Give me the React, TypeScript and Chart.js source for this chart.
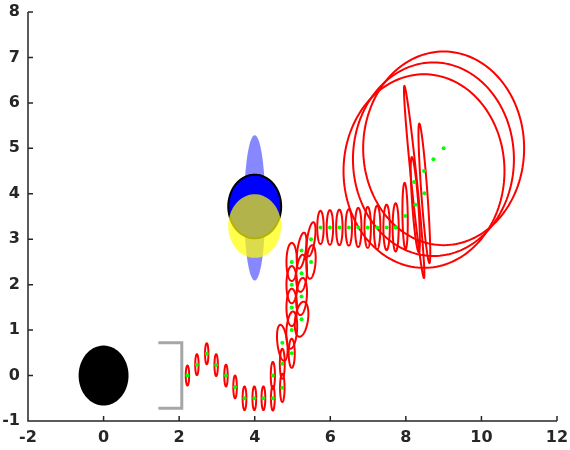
import React, { useEffect, useRef } from "react";
import { Chart, registerables } from "chart.js";
Chart.register(...registerables);

const xTicks = [-2, 0, 2, 4, 6, 8, 10, 12];
const yTicks = [-1, 0, 1, 2, 3, 4, 5, 6, 7, 8];

// Uncertainty ellipses along the trajectory: centre, semi-axes (data units), tilt (deg)
const ellX = [2.22, 2.47, 2.73, 2.98, 3.24, 3.48, 3.73, 3.99, 4.23, 4.48, 4.48, 4.73, 4.73, 4.73, 4.98, 4.98, 5.24, 4.98, 5.24, 4.98, 5.24, 4.98, 5.49, 5.24, 5.49, 5.74, 5.99, 6.24, 6.49, 6.74, 6.99, 7.24, 7.49, 7.73, 7.98, 8.25, 8.49, 8.22, 8.48, 8.73, 9.0];
const ellY = [0.0, 0.24, 0.48, 0.23, 0.0, -0.25, -0.5, -0.5, -0.5, -0.5, 0.0, -0.27, 0.26, 0.72, 0.49, 1.0, 1.24, 1.5, 1.74, 2.0, 2.25, 2.5, 2.5, 2.75, 3.0, 3.26, 3.26, 3.26, 3.26, 3.26, 3.26, 3.26, 3.26, 3.26, 3.51, 3.76, 4.01, 4.26, 4.5, 4.76, 5.0];
const ellRx = [0.045, 0.045, 0.045, 0.045, 0.045, 0.047, 0.05, 0.05, 0.05, 0.05, 0.055, 0.06, 0.065, 0.13, 0.08, 0.14, 0.17, 0.14, 0.14, 0.14, 0.14, 0.14, 0.12, 0.11, 0.1, 0.085, 0.085, 0.085, 0.085, 0.085, 0.085, 0.085, 0.085, 0.08, 0.07, 0.08, 0.08, 0.075, 2.13, 2.13, 2.13];
const ellRy = [0.22, 0.23, 0.23, 0.24, 0.24, 0.25, 0.26, 0.26, 0.26, 0.27, 0.3, 0.31, 0.33, 0.4, 0.32, 0.41, 0.39, 0.41, 0.41, 0.41, 0.41, 0.42, 0.37, 0.4, 0.38, 0.365, 0.38, 0.39, 0.4, 0.43, 0.45, 0.48, 0.5, 0.53, 0.73, 1.05, 1.54, 2.13, 2.13, 2.13, 2.13];
const ellTilt = [0, 0, 0, 0, 0, 0, 0, 0, 0, 0, 0, 0, 0, 8, 0, -5, -10, 0, -5, 0, -5, 0, -5, -10, -10, 0, 0, 0, 0, 0, 0, 0, 0, 0, 1, 5, 5, 7, 0, 0, 0];

// Filled landmarks / robot shapes: centre and semi-axes (data units)
const blobX = [0, 4, 4, 4];
const blobY = [0, 3.69, 3.72, 3.29];
const blobRx = [0.66, 0.28, 0.7, 0.7];
const blobRy = [0.66, 1.6, 0.7, 0.7];

// Gray bracket
const bracketX = [1.45, 2.07, 2.07, 1.45];
const bracketY = [0.72, 0.72, -0.72, -0.72];

const AXIS = "#262626";
const FONT = { family: "'DejaVu Sans', sans-serif", weight: "bold" as const, size: 16 };

function traceEllipse(ctx: CanvasRenderingContext2D, xs: any, ys: any, cx: number, cy: number, rx: number, ry: number, tiltDeg: number) {
  const th = (tiltDeg * Math.PI) / 180;
  const c = Math.cos(th), s = Math.sin(th);
  const N = 160;
  ctx.beginPath();
  for (let i = 0; i <= N; i++) {
    const t = (2 * Math.PI * i) / N;
    const ex = rx * Math.cos(t), ey = ry * Math.sin(t);
    const px = xs.getPixelForValue(cx + ex * c - ey * s);
    const py = ys.getPixelForValue(cy + ex * s + ey * c);
    if (i === 0) ctx.moveTo(px, py); else ctx.lineTo(px, py);
  }
  ctx.closePath();
}

const shapesPlugin = {
  id: "shapes",
  beforeDatasetsDraw(chart: any) {
    const { ctx, scales } = chart;
    const xs = scales.x, ys = scales.y;
    const fills = ["#000000", "rgba(0,0,255,0.47)", "#0000ff", "rgba(255,255,0,0.7)"];
    const edges = [null, null, "#000000", null];
    ctx.save();
    for (let i = 0; i < blobX.length; i++) {
      traceEllipse(ctx, xs, ys, blobX[i], blobY[i], blobRx[i], blobRy[i], 0);
      ctx.fillStyle = fills[i];
      ctx.fill();
      if (edges[i]) {
        ctx.strokeStyle = edges[i];
        ctx.lineWidth = 2;
        ctx.stroke();
      }
    }
    ctx.strokeStyle = "#ff0000";
    ctx.lineWidth = 2;
    for (let i = 0; i < ellX.length; i++) {
      traceEllipse(ctx, xs, ys, ellX[i], ellY[i], ellRx[i], ellRy[i], ellTilt[i]);
      ctx.stroke();
    }
    ctx.restore();
  },
};

const axesPlugin = {
  id: "matlabAxes",
  afterDraw(chart: any) {
    const { ctx, chartArea, scales } = chart;
    const { left, right, top, bottom } = chartArea;
    ctx.save();
    ctx.strokeStyle = AXIS;
    ctx.lineWidth = 1.5;
    ctx.beginPath();
    ctx.moveTo(left, top);
    ctx.lineTo(left, bottom);
    ctx.lineTo(right, bottom);
    for (const v of xTicks) {
      const px = scales.x.getPixelForValue(v);
      ctx.moveTo(px, bottom);
      ctx.lineTo(px, bottom - 5);
    }
    for (const v of yTicks) {
      const py = scales.y.getPixelForValue(v);
      ctx.moveTo(left, py);
      ctx.lineTo(left + 5, py);
    }
    ctx.stroke();
    ctx.restore();
  },
};

export default function App() {
  const ref = useRef<HTMLCanvasElement>(null);
  useEffect(() => {
    const canvas = ref.current!;
    const dots = ellX.map((x, i) => ({ x, y: ellY[i] }));
    const bracket = bracketX.map((x, i) => ({ x, y: bracketY[i] }));
    const chart = new Chart(canvas, {
      type: "scatter",
      data: {
        datasets: [
          {
            data: bracket,
            showLine: true,
            borderColor: "#a6a6a6",
            borderWidth: 3,
            pointRadius: 0,
            fill: false,
            borderJoinStyle: "miter",
          } as any,
          {
            data: dots,
            pointRadius: 2,
            pointBackgroundColor: "#00ff00",
            pointBorderWidth: 0,
            showLine: false,
          } as any,
        ],
      },
      options: {
        animation: false,
        responsive: false,
        events: [],
        layout: { padding: { top: 12, right: 13, left: 0, bottom: 0 } },
        plugins: { legend: { display: false }, tooltip: { enabled: false } },
        scales: {
          x: {
            type: "linear",
            min: -2,
            max: 12,
            afterBuildTicks: (s: any) => { s.ticks = xTicks.map((v) => ({ value: v })); },
            afterFit: (s: any) => { s.height = 29; s.paddingLeft = 0; s.paddingRight = 0; },
            grid: { display: false, drawTicks: false },
            border: { display: false },
            ticks: { padding: 7, font: FONT, color: AXIS, maxRotation: 0, autoSkip: false },
          },
          y: {
            type: "linear",
            min: -1,
            max: 8,
            afterBuildTicks: (s: any) => { s.ticks = yTicks.map((v) => ({ value: v })); },
            afterFit: (s: any) => { s.width = 28; s.paddingTop = 0; s.paddingBottom = 0; },
            grid: { display: false, drawTicks: false },
            border: { display: false },
            ticks: { padding: 8, font: FONT, color: AXIS, autoSkip: false },
          },
        },
      } as any,
      plugins: [shapesPlugin, axesPlugin],
    });
    return () => chart.destroy();
  }, []);
  return (
    <div style={{ position: "absolute", left: 0, top: 0, width: 570, height: 450, background: "#fff" }}>
      <canvas ref={ref} width={570} height={450} style={{ display: "block" }} />
    </div>
  );
}
